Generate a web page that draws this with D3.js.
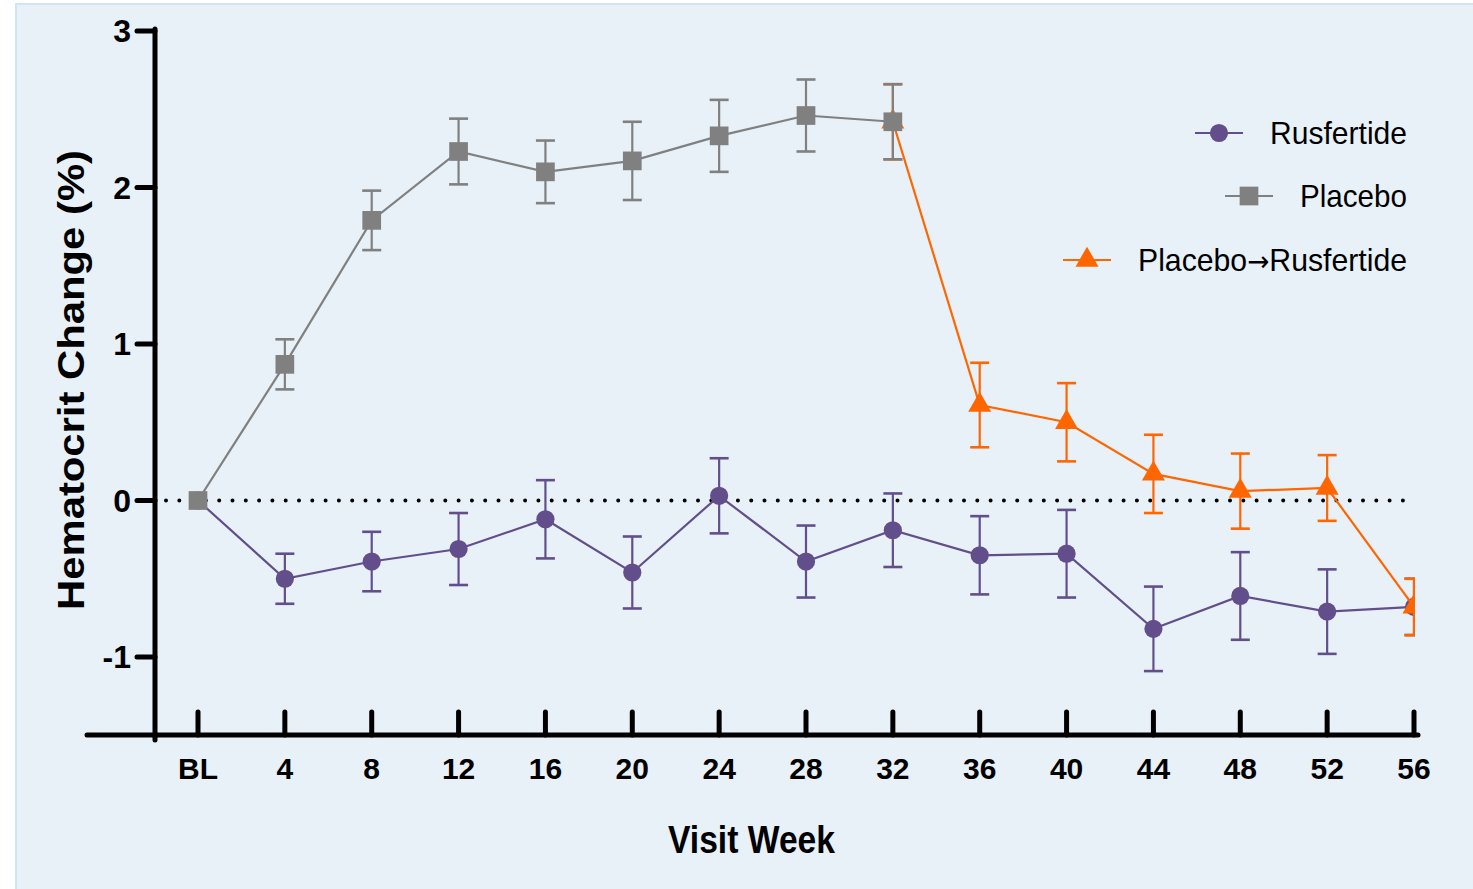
<!DOCTYPE html>
<html>
<head>
  <title>Hematocrit Change</title>
  <script src="https://d3js.org/d3.v7.min.js"></script>
  <style>
    body { margin: 0; background: #fff; }
    text { font-family: "Liberation Sans", Arial, sans-serif; }
  </style>
</head>
<body>
<svg id="chart" width="1473" height="889"></svg>
<script>
// chart data
const weeks = [0, 4, 8, 12, 16, 20, 24, 28, 32, 36, 40, 44, 48, 52, 56];
const weekLabels = ["BL", "4", "8", "12", "16", "20", "24", "28", "32", "36", "40", "44", "48", "52", "56"];
const yTicks = [-1, 0, 1, 2, 3];

const rusWeeks = [0, 4, 8, 12, 16, 20, 24, 28, 32, 36, 40, 44, 48, 52, 56];
const rusMean = [0, -0.50, -0.39, -0.31, -0.12, -0.46, 0.03, -0.39, -0.19, -0.35, -0.34, -0.82, -0.61, -0.71, -0.68];
const rusErr  = [0, 0.16, 0.19, 0.23, 0.25, 0.23, 0.24, 0.23, 0.235, 0.25, 0.28, 0.27, 0.28, 0.27, 0.18];

const plaWeeks = [0, 4, 8, 12, 16, 20, 24, 28, 32];
const plaMean = [0, 0.87, 1.79, 2.23, 2.10, 2.17, 2.33, 2.46, 2.42];
const plaErr  = [0, 0.16, 0.19, 0.21, 0.20, 0.25, 0.23, 0.23, 0.24];

const swWeeks = [32, 36, 40, 44, 48, 52, 56];
const swMean = [2.42, 0.61, 0.50, 0.17, 0.06, 0.08, -0.68];
const swErr  = [0.24, 0.27, 0.25, 0.25, 0.24, 0.21, 0.18];

// legend names, split so the arrow can use a font with a full-size glyph
const seriesNames = [["Rusfertide"], ["Placebo"], ["Placebo", "\u2192", "Rusfertide"]];
const colors = ["#634e8c", "#808080", "#ff6600"];

const svg = d3.select("#chart");

// panel background
svg.append("rect")
  .attr("x", 16).attr("y", 4)
  .attr("width", 1470).attr("height", 900)
  .attr("fill", "#e8f1f8")
  .attr("stroke", "#d3e4f1")
  .attr("stroke-width", 2);

const x = d3.scaleLinear().domain([0, 56]).range([198, 1414]);
const y = d3.scaleLinear().domain([-1, 3]).range([657, 31]);

// dotted zero line
svg.append("line")
  .attr("x1", 166).attr("x2", 1408)
  .attr("y1", y(0)).attr("y2", y(0))
  .attr("stroke", "#000")
  .attr("stroke-width", 4)
  .attr("stroke-linecap", "round")
  .attr("stroke-dasharray", "0,13.3");

// axes
const axisY = svg.append("g").attr("transform", "translate(155,0)");
axisY.append("line")
  .attr("x1", 0).attr("x2", 0)
  .attr("y1", 29).attr("y2", 740)
  .attr("stroke", "#000").attr("stroke-width", 5).attr("stroke-linecap", "round");
axisY.selectAll(".tick").data(yTicks).enter().append("line")
  .attr("x1", -18).attr("x2", 0)
  .attr("y1", d => y(d)).attr("y2", d => y(d))
  .attr("stroke", "#000").attr("stroke-width", 5).attr("stroke-linecap", "round");
axisY.selectAll(".lbl").data(yTicks).enter().append("text")
  .attr("x", -24).attr("y", d => y(d) + 11)
  .attr("text-anchor", "end")
  .attr("font-size", 32).attr("font-weight", "bold")
  .text(d => d);

const axisX = svg.append("g").attr("transform", "translate(0,735)");
axisX.append("line")
  .attr("x1", 87).attr("x2", 1418)
  .attr("y1", 0).attr("y2", 0)
  .attr("stroke", "#000").attr("stroke-width", 5).attr("stroke-linecap", "round");
axisX.selectAll(".tick").data(weeks).enter().append("line")
  .attr("x1", d => x(d)).attr("x2", d => x(d))
  .attr("y1", -23).attr("y2", 0)
  .attr("stroke", "#000").attr("stroke-width", 5).attr("stroke-linecap", "round");
axisX.selectAll(".lbl").data(weeks).enter().append("text")
  .attr("x", d => x(d)).attr("y", 44)
  .attr("text-anchor", "middle")
  .attr("font-size", 30).attr("font-weight", "bold")
  .text((d, i) => weekLabels[i]);

// axis titles
svg.append("text")
  .attr("transform", "translate(84,380) rotate(-90)")
  .attr("x", -230)
  .attr("font-size", 37).attr("font-weight", "bold")
  .attr("textLength", 460).attr("lengthAdjust", "spacingAndGlyphs")
  .text("Hematocrit Change (%)");
svg.append("text")
  .attr("x", 668).attr("y", 853)
  .attr("font-size", 38).attr("font-weight", "bold")
  .attr("textLength", 167).attr("lengthAdjust", "spacingAndGlyphs")
  .text("Visit Week");

// clip at last week
svg.append("clipPath").attr("id", "plotclip")
  .append("rect").attr("x", 150).attr("y", 0).attr("width", x(56) - 150 + 1).attr("height", 760);

const plot = svg.append("g").attr("clip-path", "url(#plotclip)");

function drawSeries(wk, mean, err, color, shape) {
  const pts = wk.map((w, i) => ({ w: w, m: mean[i], e: err[i] }));
  const g = plot.append("g");
  const line = d3.line().x(d => x(d.w)).y(d => y(d.m));
  g.append("path").datum(pts)
    .attr("d", line).attr("fill", "none")
    .attr("stroke", color).attr("stroke-width", 2.2);
  const eb = g.selectAll(".eb").data(pts.filter(d => d.e > 0)).enter().append("g");
  eb.append("line")
    .attr("x1", d => x(d.w)).attr("x2", d => x(d.w))
    .attr("y1", d => y(d.m + d.e)).attr("y2", d => y(d.m - d.e))
    .attr("stroke", color).attr("stroke-width", 2.2);
  [1, -1].forEach(s => {
    eb.append("line")
      .attr("x1", d => x(d.w) - 9.5).attr("x2", d => x(d.w) + 9.5)
      .attr("y1", d => y(d.m + s * d.e)).attr("y2", d => y(d.m + s * d.e))
      .attr("stroke", color).attr("stroke-width", 2.6);
  });
  g.selectAll(".mk").data(pts).enter().append("path")
    .attr("transform", d => `translate(${x(d.w)},${y(d.m)})`)
    .attr("d", shape)
    .attr("fill", color);
}

const circle = d3.symbol().type(d3.symbolCircle).size(260)();
const square = d3.symbol().type(d3.symbolSquare).size(350)();
const triangle = d3.symbol().type(d3.symbolTriangle).size(230)();

drawSeries(rusWeeks, rusMean, rusErr, colors[0], circle);
drawSeries(swWeeks, swMean, swErr, colors[2], triangle);
drawSeries(plaWeeks, plaMean, plaErr, colors[1], square);

// legend
const legendY = [133, 196, 260];
const legendLineX = [1219, 1249, 1087];
const legendTextX = [1270, 1300, 1138];
const shapes = [circle, square, triangle];
const legend = svg.append("g");
seriesNames.forEach((parts, i) => {
  const cx = legendLineX[i];
  legend.append("line")
    .attr("x1", cx - 24).attr("x2", cx + 24)
    .attr("y1", legendY[i]).attr("y2", legendY[i])
    .attr("stroke", colors[i]).attr("stroke-width", 2.2);
  legend.append("path")
    .attr("transform", `translate(${cx},${legendY[i]})`)
    .attr("d", shapes[i]).attr("fill", colors[i]);
  const t = legend.append("text")
    .attr("x", legendTextX[i]).attr("y", legendY[i] + 11)
    .attr("font-size", 32)
    .attr("textLength", 1407 - legendTextX[i]).attr("lengthAdjust", "spacingAndGlyphs");
  parts.forEach(p => {
    t.append("tspan")
      .style("font-family", p === "\u2192" ? "'DejaVu Sans', sans-serif" : null)
      .attr("font-size", p === "\u2192" ? 28 : null)
      .text(p);
  });
});
</script>
</body>
</html>
